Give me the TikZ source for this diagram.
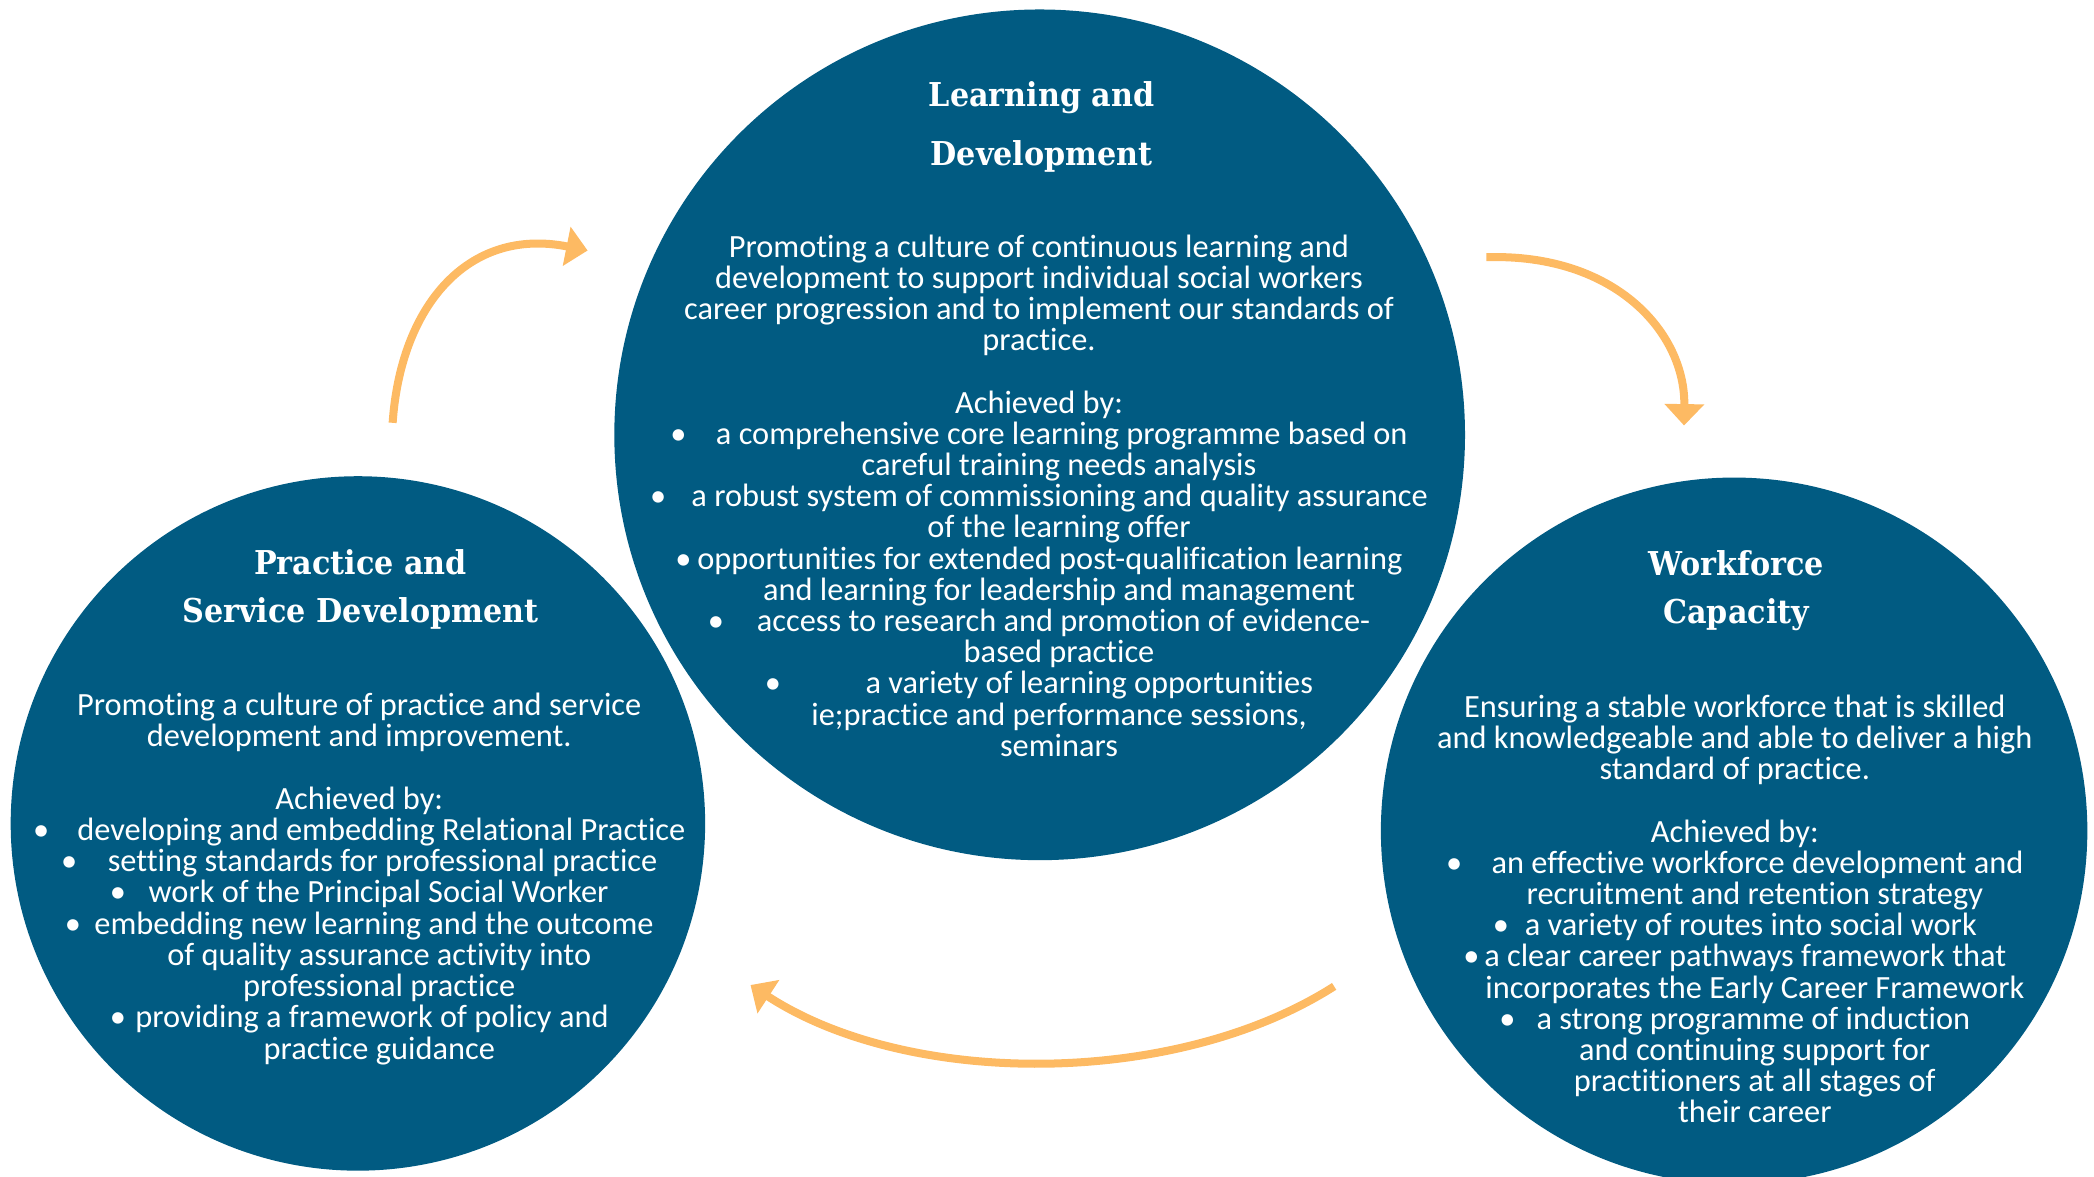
\documentclass[tikz,border=0pt]{standalone}
\usepackage{fontspec}
\setmainfont{Carlito}[Ligatures=NoCommon]
\newfontfamily\headfont[FakeStretch=0.92]{DejaVu Serif}
\usetikzlibrary{arrows.meta}

\definecolor{circblue}{RGB}{1,91,130}
\definecolor{arrorange}{RGB}{253,186,99}

\begin{document}
\begin{tikzpicture}[
    bubble/.style={circle, fill=circblue, inner sep=0pt},
    heading/.style={text=white, align=center, inner sep=0pt, font=\headfont\bfseries\fontsize{14}{20.4}\selectfont},
    body/.style={text=white, align=center, inner sep=0pt, font=\fontsize{13.8}{13.3}\selectfont},
    flow/.style={draw=arrorange, line width=0.12cm, -{Triangle[width=0.58cm, length=0.32cm]}}
]
    % Page frame
    \useasboundingbox (0,0) rectangle (31.36,17.612);
    \clip (0,0) rectangle (31.36,17.612);

    % Helpers for bullets and wrapped lines
    \def\bl#1{\textbullet\hspace{#1pt}}
    \def\ind{\hspace*{0.6cm}}

    % The three circles
    \node[bubble, minimum size=12.74cm] (ld) at (15.57,11.10) {};
    \node[bubble, minimum size=10.4cm] (psd) at (5.36,5.28) {};
    \node[bubble, minimum size=10.58cm] (wc) at (25.97,5.17) {};

    % Learning and Development
    \node[heading, font=\headfont\bfseries\fontsize{14}{25.5}\selectfont] (ldtitle) at (15.6,15.71) {Learning and\\Development};
    \node[body] (ldtext) at (15.56,10.19) {Promoting a culture of continuous learning and\\
        development to support individual social workers\\
        career progression and to implement our standards of\\
        practice.\\[13.3pt]
        Achieved by:\\
        \bl{12.5}a comprehensive core learning programme based on\\
        \ind careful training needs analysis\\
        \bl{10.8}a robust system of commissioning and quality assurance\\
        \ind of the learning offer\\
        \bl{2.5}opportunities for extended post-qualification learning\\
        \ind and learning for leadership and management\\
        \bl{14}access to research and promotion of evidence-\\
        \ind based practice\\
        \bl{36}a variety of learning opportunities\\
        \ind ie;practice and performance sessions,\\
        \ind seminars};

    % Practice and Service Development
    \node[heading] (psdtitle) at (5.4,8.78) {Practice and\\Service Development};
    \node[body] (psdtext) at (5.38,4.45) {Promoting a culture of practice and service\\
        development and improvement.\\[13.3pt]
        Achieved by:\\
        \bl{12}developing and embedding Relational Practice\\
        \bl{13}setting standards for professional practice\\
        \bl{9.6}work of the Principal Social Worker\\
        \bl{5.7}embedding new learning and the outcome\\
        \ind of quality assurance activity into\\
        \ind professional practice\\
        \bl{4}providing a framework of policy and\\
        \ind practice guidance};

    % Workforce Capacity
    \node[heading] (wctitle) at (26.0,8.76) {Workforce\\Capacity};
    \node[body] (wctext) at (25.98,4.0) {Ensuring a stable workforce that is skilled\\
        and knowledgeable and able to deliver a high\\
        standard of practice.\\[13.3pt]
        Achieved by:\\
        \bl{12.5}an effective workforce development and\\
        \ind recruitment and retention strategy\\
        \bl{6.8}a variety of routes into social work\\
        \bl{2}a clear career pathways framework that\\
        \ind incorporates the Early Career Framework\\
        \bl{9}a strong programme of induction\\
        \ind and continuing support for\\
        \ind practitioners at all stages of\\
        \ind their career};

    % Arrows between the circles
    \coordinate (a1s) at (5.88,11.28);
    \coordinate (a1e) at (8.8,13.86);
    \coordinate (a2s) at (22.26,13.76);
    \coordinate (a2e) at (25.22,11.24);
    \coordinate (a3s) at (19.98,2.84);
    \coordinate (a3e) at (11.24,2.86);
    \draw[flow] (a1s) .. controls (6.0,13.02) and (7.0,14.22) .. (a1e);
    \draw[flow] (a2s) .. controls (24.2,13.82) and (25.24,12.62) .. (a2e);
    \draw[flow] (a3s) .. controls (17.6,1.32) and (13.6,1.32) .. (a3e);
\end{tikzpicture}
\end{document}
